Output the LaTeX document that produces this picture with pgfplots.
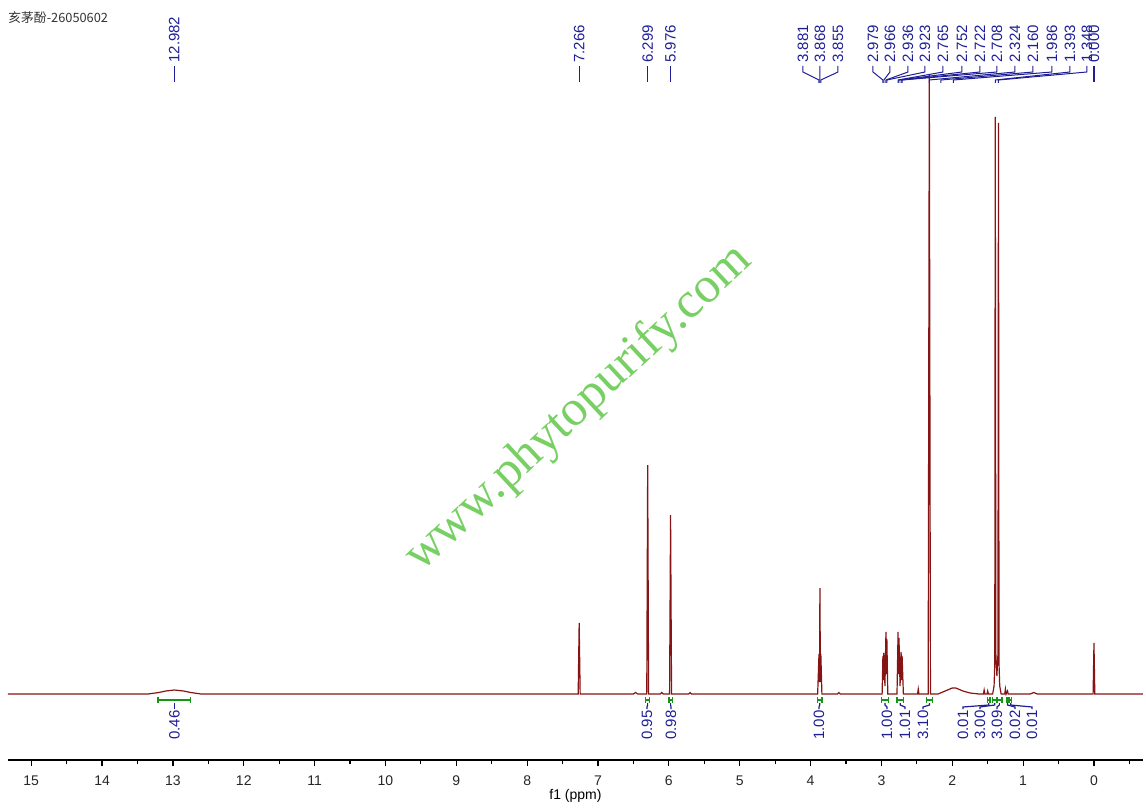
\documentclass[border=0pt]{standalone}
\usepackage{pgfplots}
\pgfplotsset{compat=1.18}
\usepackage{fontspec}
\setmainfont{Liberation Sans}
\newfontfamily\cjk{Noto Sans CJK SC}
\newfontfamily\wm{Liberation Serif}
\definecolor{spec}{RGB}{135,20,20}
\definecolor{lbl}{RGB}{30,30,150}
\definecolor{intg}{RGB}{20,150,20}
\definecolor{wmk}{RGB}{120,208,100}

% single peak label: ppm, text
\newcommand{\pk}[2]{%
  \draw[lbl, line width=0.6pt] (#1,612) -- (#1,628);
  \node[lbl, rotate=90, anchor=west, inner sep=0pt, font=\fontsize{7.5}{8}\selectfont] at (#1,631) {#2};}
% grouped peak label: label ppm, peak ppm, text
\newcommand{\pkg}[3]{%
  \draw[lbl, line width=0.5pt] (#1,628) -- (#1,622) -- (#2,614) -- (#2,611);
  \node[lbl, rotate=90, anchor=west, inner sep=0pt, font=\fontsize{7.5}{8}\selectfont] at (#1,631) {#3};}
% integral: from, to, centre, label ppm, text
\newcommand{\intg}[5]{%
  \draw[intg, line width=0.7pt] (#1,-6) -- (#2,-6) (#1,-3) -- (#1,-9) (#2,-3) -- (#2,-9);
  \draw[lbl, line width=0.6pt] (#3,-9) -- (#3,-11) -- (#4,-13) -- (#4,-15);
  \node[lbl, rotate=90, anchor=east, inner sep=0pt, font=\fontsize{7.5}{8}\selectfont] at (#4,-16) {#5};}

\begin{document}
\begin{tikzpicture}
\begin{axis}[
  scale only axis, width=567.5pt, height=380pt,
  x dir=reverse, xmin=-0.692, xmax=15.328, ymin=-66, ymax=694,
  axis x line*=bottom, axis y line=none,
  x axis line style={-, line width=0.6pt},
  xtick={0,...,15}, minor xtick={-0.5,0.5,...,14.5},
  tick align=outside, major tick length=3pt, minor tick length=2pt,
  tick style={black, line width=0.6pt},
  xticklabel style={font=\fontsize{7}{8}\selectfont, text=black!85, anchor=center, yshift=-7.5pt},
  /pgf/number format/assume math mode=true,
  xlabel={f1 (ppm)},
  xlabel style={font=\fontsize{7}{8}\selectfont, at={(axis description cs:0.5,0)}, anchor=center, yshift=-18pt},
  clip=false,
]
\node[rotate=43, text=wmk, font=\wm\fontsize{25.3}{26}\selectfont] at (7.27,285) {www.phytopurify.com};

\addplot[spec, line width=0.6pt, mark=none] coordinates {
(15.33,0) (13.35,0) (13.2,1.5) (13.1,3) (12.98,4) (12.85,3) (12.75,1.5) (12.6,0)
(7.28,0) (7.266,71) (7.252,0)
(6.5,0) (6.47,1.5) (6.44,0)
(6.312,0) (6.299,229) (6.286,0)
(6.12,0) (6.1,1.5) (6.08,0)
(5.99,0) (5.976,179) (5.962,0)
(5.72,0) (5.7,1.5) (5.68,0)
(3.9,0) (3.881,40) (3.874,12) (3.868,106) (3.861,12) (3.855,40) (3.84,0)
(3.62,0) (3.6,1.5) (3.58,0)
(2.99,0) (2.979,38) (2.972,14) (2.966,41) (2.95,8) (2.936,62) (2.929,20) (2.923,55) (2.91,0)
(2.78,0) (2.765,62) (2.758,20) (2.752,56) (2.737,8) (2.722,42) (2.715,14) (2.708,38) (2.69,0)
(2.49,0) (2.48,5) (2.47,0)
(2.34,0) (2.324,619) (2.308,0)
(2.2,0) (2.1,3) (2.0,6) (1.95,6) (1.85,3) (1.75,1) (1.62,0)
(1.56,0) (1.55,4) (1.54,0) (1.51,0) (1.50,3) (1.49,0)
(1.43,0) (1.41,8) (1.40,30) (1.393,577) (1.385,40) (1.37,18) (1.355,40) (1.348,571) (1.34,30) (1.33,8) (1.31,0)
(1.26,0) (1.25,5) (1.24,0) (1.22,3) (1.21,0)
(0.9,0) (0.85,1.5) (0.8,0)
(0.012,0) (0.0,51) (-0.012,0) (-0.692,0)
};

% peak labels
\pk{12.982}{12.982}
\pk{7.266}{7.266}
\pk{6.299}{6.299}
\pk{5.976}{5.976}
\pkg{4.107}{3.881}{3.881}
\pkg{3.867}{3.868}{3.868}
\pkg{3.613}{3.855}{3.855}
\pkg{3.119}{2.979}{2.979}
\pkg{2.879}{2.966}{2.966}
\pkg{2.625}{2.936}{2.936}
\pkg{2.385}{2.923}{2.923}
\pkg{2.131}{2.765}{2.765}
\pkg{1.863}{2.752}{2.752}
\pkg{1.609}{2.722}{2.722}
\pkg{1.369}{2.708}{2.708}
\pkg{1.115}{2.324}{2.324}
\pkg{0.861}{2.160}{2.160}
\pkg{0.593}{1.986}{1.986}
\pkg{0.339}{1.393}{1.393}
\pkg{0.099}{1.348}{1.348}
\pk{0.0}{0.000}

% integrals
\intg{13.21}{12.75}{12.98}{12.98}{0.46}
\intg{6.33}{6.27}{6.30}{6.309}{0.95}
\intg{6.00}{5.95}{5.975}{5.97}{0.98}
\intg{3.90}{3.84}{3.87}{3.881}{1.00}
\intg{3.00}{2.90}{2.95}{2.922}{1.00}
\intg{2.78}{2.69}{2.735}{2.668}{1.01}
\intg{2.36}{2.28}{2.32}{2.414}{3.10}
\intg{1.50}{1.47}{1.485}{1.849}{0.01}
\intg{1.43}{1.37}{1.40}{1.609}{3.00}
\intg{1.37}{1.30}{1.335}{1.369}{3.09}
\intg{1.23}{1.21}{1.22}{1.115}{0.02}
\intg{1.19}{1.16}{1.175}{0.875}{0.01}

% title
\node[anchor=west, inner sep=0pt, font=\cjk\fontsize{6.4}{7}\selectfont, text=black!80] at (15.328,676) {亥茅酚-26050602};
\end{axis}
\pgfresetboundingbox
\path (current axis.south west) ++(-4pt,-25pt) rectangle ++(573pt,405pt);
\end{tikzpicture}
\end{document}
